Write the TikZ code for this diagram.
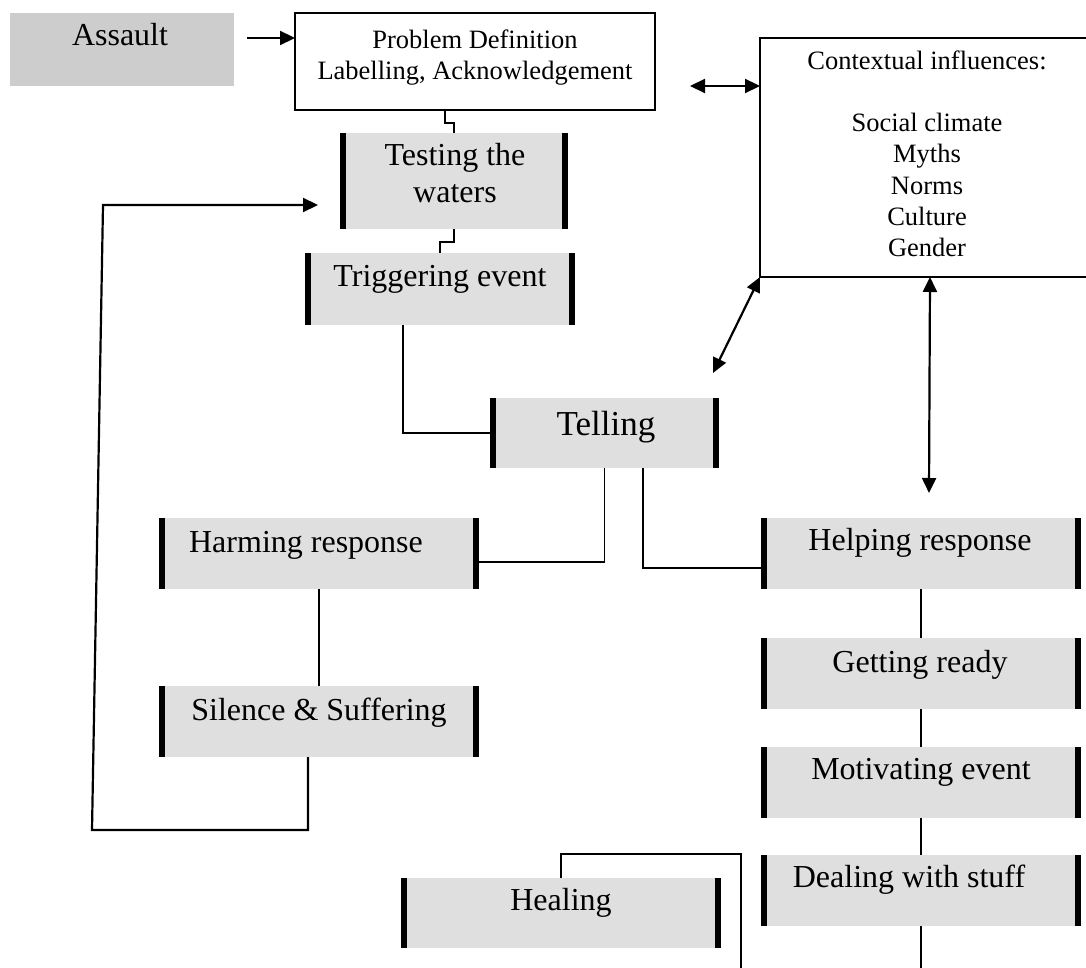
\documentclass[tikz,border=0pt]{standalone}
\usepackage{fontspec}
\setmainfont{Liberation Serif}
\usetikzlibrary{arrows.meta,calc}
\definecolor{boxgray}{HTML}{DFDFDF}
\definecolor{asgray}{HTML}{CDCDCD}
\begin{document}
\begin{tikzpicture}[x=1pt,y=-1pt,
  bx/.style={fill=boxgray, inner sep=0pt, outer sep=0pt, anchor=north west,
    path picture={
      \fill[black] (path picture bounding box.north west) rectangle ([xshift=6pt]path picture bounding box.south west);
      \fill[black] (path picture bounding box.north east) rectangle ([xshift=-6pt]path picture bounding box.south east);}},
  frame/.style={draw, line width=2.4pt, inner sep=0pt, outer sep=0pt, anchor=north west},
  conn/.style={line width=1.7pt},
  tip/.tip={Triangle[length=15pt,width=14pt]},
  arr/.style={line width=2.2pt, -tip},
  darr/.style={line width=2.2pt, tip-tip},
  txt/.style={anchor=base, inner sep=0pt, align=center, font=\fontsize{32}{37}\selectfont},
  big/.style={anchor=base, inner sep=0pt, align=center, font=\fontsize{35}{40}\selectfont},
  sm/.style={anchor=base, inner sep=0pt, align=center, font=\fontsize{26.5}{31}\selectfont}]
\useasboundingbox (0,0) rectangle (1086,968);
\clip (0,0) rectangle (1086,968);

% boxes
\node[fill=asgray, inner sep=0pt, outer sep=0pt, anchor=north west, minimum width=224pt, minimum height=73pt] (as) at (10,13) {};
\node[frame, fill=white, minimum width=360pt, minimum height=97pt] (prob) at (295,13) {};
\node[frame, minimum width=340pt, minimum height=239pt] (ctx) at (760,38) {};
\node[bx, minimum width=228pt, minimum height=96pt] (test) at (340,133) {};
\node[bx, minimum width=270pt, minimum height=72pt] (trig) at (305,253) {};
\node[bx, minimum width=229pt, minimum height=70pt] (tel) at (490,398) {};
\node[bx, minimum width=320pt, minimum height=71pt] (har) at (159,518) {};
\node[bx, minimum width=320pt, minimum height=71pt] (sil) at (159,686) {};
\node[bx, minimum width=320pt, minimum height=71pt] (hel) at (761,518) {};
\node[bx, minimum width=320pt, minimum height=71pt] (get) at (761,638) {};
\node[bx, minimum width=320pt, minimum height=71pt] (mot) at (761,747) {};
\node[bx, minimum width=320pt, minimum height=71pt] (deal) at (761,855) {};
\node[bx, minimum width=320pt, minimum height=70pt] (heal) at (401,878) {};

% texts (multi-line nodes: base = last line baseline)
\node[txt] (asT) at (120,46) {Assault};
\node[sm] (probT) at (475,80) {Problem Definition\\Labelling, Acknowledgement};
\node[sm] (ctxT) at (927,256) {Contextual influences:\\[31pt]Social climate\\Myths\\Norms\\Culture\\Gender};
\node[txt] (testT) at (455,203) {Testing the\\waters};
\node[txt] (trigT) at (440,287) {Triggering event};
\node[big] (telT) at (606,435) {Telling};
\node[txt] (harT) at (306,552) {Harming response};
\node[txt] (silT) at (319,720) {Silence \& Suffering};
\node[txt] (helT) at (920,550) {Helping response};
\node[txt] (getT) at (920,672) {Getting ready};
\node[txt] (motT) at (921,779) {Motivating event};
\node[txt] (dealT) at (909,887) {Dealing with stuff};
\node[txt] (healT) at (561,910) {Healing};

% free ends
\coordinate (lpA) at (92,830);
\coordinate (lpB) at (103,205);
\coordinate (lpTip) at (318,205);
\coordinate (healEnd) at (741,968);
\coordinate (dealEnd) at (921,968);

% connectors
\draw[arr] ([xshift=13pt,yshift=11.5pt]as.east) -- ([yshift=23.5pt]prob.west);
\draw[conn] ([xshift=-30pt]prob.south) -- ++(0,13) -| (test.north);
\draw[conn] (test.south) -- ++(0,13) -| (trig.north);
\draw[conn] ([xshift=-37pt]trig.south) |- (tel.west);
\draw[conn] (tel.south) |- ([yshift=-8.5pt]har.east);
\draw[conn] ([xshift=38.5pt]tel.south) |- ([yshift=-14.5pt]hel.west);
\draw[conn] (har.south) -- (sil.north);
\draw[arr] ([xshift=-11pt]sil.south) |- (lpA) -- (lpB) -- (lpTip);
\draw[darr] ([xshift=35pt,yshift=-24.5pt]prob.east) -- ([yshift=71.5pt]ctx.west);
\draw[darr] (ctx.south west) -- ([xshift=-6pt,yshift=25pt]tel.north east);
\draw[darr] (ctx.south) -- ([xshift=8pt,yshift=25pt]hel.north);
\draw[conn] (hel.south) -- (get.north);
\draw[conn] (get.south) -- (mot.north);
\draw[conn] (mot.south) -- (deal.north);
\draw[conn] (deal.south) -- (dealEnd);
\draw[conn] (heal.north) -- ++(0,-24) -| (healEnd);
\end{tikzpicture}
\end{document}
